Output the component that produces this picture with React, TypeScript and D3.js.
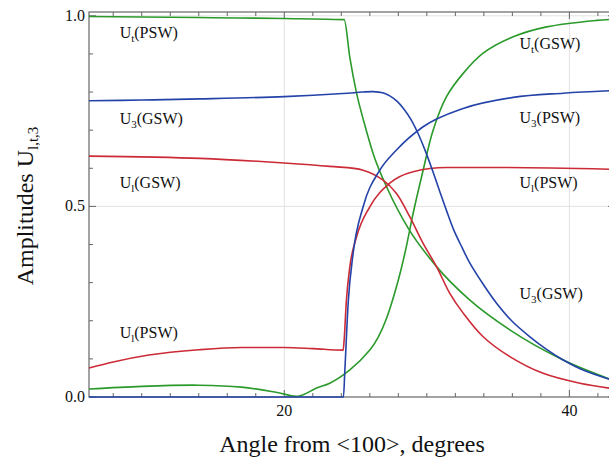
import { line, curveMonotoneX, curveCatmullRom, scaleLinear, range } from 'd3'

const width = 609
const height = 460

// [angle (deg), amplitude]
const utPSW: [number, number][] = [
  [6.3, 0.998], [10, 0.997], [15, 0.995], [20, 0.993], [24.2, 0.99],
  [24.6, 0.89], [25.07, 0.797], [25.6, 0.72], [26.23, 0.639], [27.28, 0.543],
  [28.69, 0.443], [30.68, 0.342], [33.02, 0.254], [35.82, 0.176], [39.57, 0.097],
  [43.2, 0.042],
]
const u3GSW: [number, number][] = [
  [6.3, 0.777], [10, 0.779], [14.1, 0.782], [20, 0.788], [24.1, 0.796],
  [25.5, 0.8], [26.23, 0.801], [26.9, 0.798], [27.4, 0.79], [27.9, 0.776],
  [28.4, 0.755], [28.9, 0.727], [29.4, 0.69], [29.9, 0.645], [30.4, 0.594],
  [30.9, 0.54], [31.4, 0.487], [31.9, 0.437], [32.5, 0.39], [33.02, 0.351],
  [34, 0.293], [34.89, 0.246], [36, 0.198], [37.23, 0.158], [38.4, 0.125],
  [39.57, 0.097], [41, 0.07], [43.2, 0.042],
]
const ulGSW: [number, number][] = [
  [6.3, 0.632], [14.1, 0.626], [20, 0.614], [23.19, 0.605], [25.53, 0.595],
  [26.93, 0.569], [27.87, 0.534], [28.8, 0.473], [29.74, 0.403], [30.68, 0.342],
  [31.61, 0.272], [32.55, 0.22], [33.95, 0.158], [35.82, 0.106], [38.16, 0.062],
  [40.74, 0.036], [43.2, 0.021],
]
const ulPSW: [number, number][] = [
  [6.3, 0.076], [8, 0.092], [10.5, 0.11], [14, 0.124], [17, 0.13], [20, 0.13],
  [22, 0.127], [24.13, 0.123], [24.2, 0.15], [24.35, 0.25], [24.6, 0.342],
  [25.07, 0.42], [26.0, 0.499], [27.4, 0.561], [29.04, 0.591], [31.38, 0.602],
  [35.5, 0.602], [43.2, 0.597],
]
const u3PSW: [number, number][] = [
  [6.3, 0], [24.15, 0], [24.25, 0.071], [24.48, 0.246], [24.83, 0.377],
  [25.53, 0.499], [26.7, 0.595], [27.87, 0.648], [29.74, 0.709], [32.55, 0.757],
  [36.06, 0.786], [39.57, 0.797], [43.2, 0.804],
]
const utGSW: [number, number][] = [
  [6.3, 0.021], [10, 0.028], [14, 0.031], [17, 0.026], [19.5, 0.012],
  [20.95, 0.002], [22.3, 0.024], [23.19, 0.036], [24.6, 0.071], [26.0, 0.123],
  [26.6, 0.158], [27.17, 0.206], [27.87, 0.289], [28.46, 0.377], [29.04, 0.482],
  [29.74, 0.595], [30.44, 0.7], [31.38, 0.788], [32.55, 0.849], [33.95, 0.902],
  [36.06, 0.945], [38.4, 0.971], [41.9, 0.988], [43.2, 0.991],
]

const green = '#2b9a2b'
const blue = '#2443a8'
const red = '#cc2a36'

// sharp-cornered curves use monotone, the smooth ones catmull-rom
const series = [
  { name: 'utGSW', data: utGSW, color: green, smooth: true },
  { name: 'utPSW', data: utPSW, color: green, smooth: false },
  { name: 'ulGSW', data: ulGSW, color: red, smooth: true },
  { name: 'ulPSW', data: ulPSW, color: red, smooth: false },
  { name: 'u3GSW', data: u3GSW, color: blue, smooth: true },
  { name: 'u3PSW', data: u3PSW, color: blue, smooth: false },
]

// curve labels: main letter, subscript, suffix, anchor in data coords
const labels = [
  { main: 'U', sub: 't', rest: '(PSW)', x: 8.45, y: 0.942 },
  { main: 'U', sub: '3', rest: '(GSW)', x: 8.45, y: 0.716 },
  { main: 'U', sub: 'l', rest: '(GSW)', x: 8.45, y: 0.548 },
  { main: 'U', sub: 'l', rest: '(PSW)', x: 8.45, y: 0.155 },
  { main: 'U', sub: 't', rest: '(GSW)', x: 36.5, y: 0.914 },
  { main: 'U', sub: '3', rest: '(PSW)', x: 36.5, y: 0.72 },
  { main: 'U', sub: 'l', rest: '(PSW)', x: 36.5, y: 0.549 },
  { main: 'U', sub: '3', rest: '(GSW)', x: 36.5, y: 0.258 },
]

const margin = { left: 89, right: 615, top: 12, bottom: 397 }
const x = scaleLinear().domain([6.3, 43.2]).range([margin.left, margin.right])
const y = scaleLinear().domain([0, 1.01]).range([margin.bottom, margin.top])

const sharpPath = line<[number, number]>()
  .x((d) => x(d[0]))
  .y((d) => y(d[1]))
  .curve(curveMonotoneX)
const smoothPath = line<[number, number]>()
  .x((d) => x(d[0]))
  .y((d) => y(d[1]))
  .curve(curveCatmullRom.alpha(0.5))

const font = '"Liberation Serif", "Times New Roman", serif'
const axisColor = '#666'

function App() {
  const xMinor = range(8, 44, 2)
  const xMajor = [20, 40]
  const yMinor = range(0, 1.001, 0.1)
  const yMajor = [0, 0.5, 1]
  return (
    <svg
      width={width}
      height={height}
      style={{ position: 'absolute', left: 0, top: 0, background: '#fff' }}
      fontFamily={font}
    >
      {/* grid */}
      {xMajor.map((t) => (
        <line key={'gx' + t} x1={x(t)} x2={x(t)} y1={margin.top} y2={margin.bottom} stroke="#e2e2e2" />
      ))}
      {[0.5, 1].map((t) => (
        <line key={'gy' + t} x1={margin.left} x2={margin.right} y1={y(t)} y2={y(t)} stroke="#e2e2e2" />
      ))}

      {/* frame */}
      <rect
        x={margin.left}
        y={margin.top}
        width={margin.right - margin.left}
        height={margin.bottom - margin.top}
        fill="none"
        stroke={axisColor}
        strokeWidth={1.2}
      />

      {/* x ticks, bottom and top */}
      {xMinor.map((t) => {
        const len = xMajor.includes(t) ? 7 : 4
        return (
          <g key={'xt' + t} stroke={axisColor}>
            <line x1={x(t)} x2={x(t)} y1={margin.bottom} y2={margin.bottom - len} />
            <line x1={x(t)} x2={x(t)} y1={margin.top} y2={margin.top + len} />
          </g>
        )
      })}
      {/* y ticks, left and right */}
      {yMinor.map((t, i) => {
        const len = i % 5 === 0 ? 7 : 4
        return (
          <g key={'yt' + i} stroke={axisColor}>
            <line x1={margin.left} x2={margin.left + len} y1={y(t)} y2={y(t)} />
            <line x1={margin.right} x2={margin.right - len} y1={y(t)} y2={y(t)} />
          </g>
        )
      })}

      {/* curves */}
      {series.map((s) => (
        <path
          key={s.name}
          d={(s.smooth ? smoothPath(s.data) : sharpPath(s.data)) ?? ''}
          fill="none"
          stroke={s.color}
          strokeWidth={1.6}
        />
      ))}

      {/* tick labels */}
      {xMajor.map((t) => (
        <text key={'xl' + t} x={x(t)} y={416} textAnchor="middle" fontSize={16} fill="#111">
          {t}
        </text>
      ))}
      {yMajor.map((t) => (
        <text key={'yl' + t} x={margin.left - 4} y={y(t) + 5} textAnchor="end" fontSize={16} fill="#111">
          {t.toFixed(1)}
        </text>
      ))}

      {/* curve labels */}
      {labels.map((l, i) => (
        <text key={'lb' + i} x={x(l.x)} y={y(l.y)} fontSize={16} fill="#111">
          {l.main}
          <tspan dy={4} fontSize={11}>
            {l.sub}
          </tspan>
          <tspan dy={-4}>{l.rest}</tspan>
        </text>
      ))}

      {/* axis titles */}
      <text x={352} y={452} textAnchor="middle" fontSize={24} fill="#111">
        {'Angle from <100>, degrees'}
      </text>
      <text transform="translate(33,206) rotate(-90)" textAnchor="middle" fontSize={24} fill="#111">
        Amplitudes U
        <tspan dy={5} fontSize={15}>
          l,t,3
        </tspan>
      </text>
    </svg>
  )
}

export default App
